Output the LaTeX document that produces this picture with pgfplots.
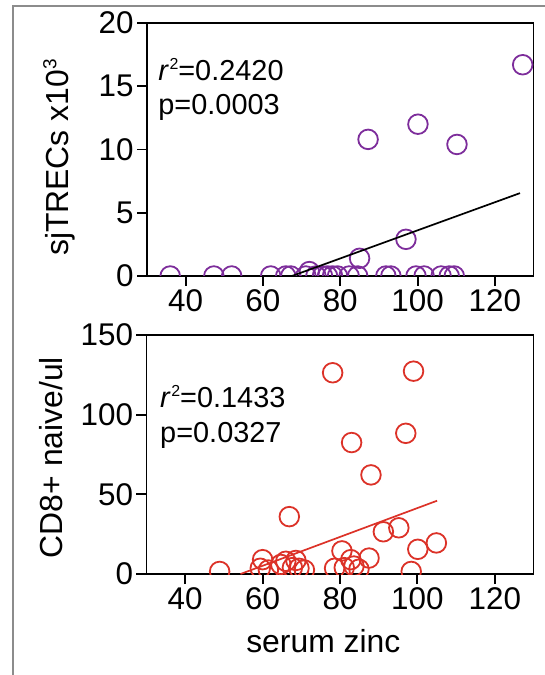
\documentclass[border=0pt]{standalone}
\usepackage{pgfplots}
\pgfplotsset{compat=1.18}
\usepackage{fontspec}
\setmainfont{Liberation Sans}
\definecolor{mypurple}{RGB}{125,45,155}
\definecolor{myred}{RGB}{220,50,40}
\newcommand{\sq}{\textit{r}\kern0.5bp\raisebox{11bp}{\fontsize{16}{16}\selectfont 2}}
\begin{document}
\begin{tikzpicture}
\useasboundingbox (0bp,0bp) rectangle (545bp,675bp);
\draw[black!45, line width=2.2bp] (12.7bp,0bp) -- (12.7bp,669bp) -- (545bp,669bp);
\pgfplotsset{
 common/.style={
  scale only axis, xmin=30, xmax=130, xtick={40,60,80,100,120},
  axis line style={line width=1.9bp},
  tick style={line width=1.9bp, black},
  major tick length=10bp, tick align=outside, tick pos=left,
  ticklabel style={font=\fontsize{31.5}{31.5}\selectfont},
  label style={font=\fontsize{32}{32}\selectfont},
  /pgf/number format/assume math mode=true,
  clip marker paths=true,
 }}
\begin{axis}[common, at={(147bp,399bp)}, anchor=south west, width=386.5bp, height=253bp,
  ymin=0, ymax=20, ytick={0,5,10,15,20},
  ylabel={sjTRECs x10\raisebox{12bp}{\fontsize{19}{19}\selectfont 3}},
  ylabel style={at={(axis description cs:-0.186,0.468)}, anchor=south, inner sep=0pt}]
\addplot[only marks, mark=o, mark size=9.8bp, mypurple, line width=1.8bp] coordinates {
(36,0) (47.3,0) (51.9,0) (62,0) (65.9,0) (67.2,0) (71.1,0) (72,0.35) (73.7,0)
(75.4,0) (76.7,0) (78,0) (79.3,0) (82.3,0) (84.5,0) (85,1.4) (87.2,10.8)
(91.8,0) (93.1,0) (97,2.9) (99.6,0) (100.1,12) (101.7,0) (106.1,0) (108.2,0)
(109.5,0) (110.2,10.4) (127.2,16.7)};
\addplot[black, line width=1.7bp] coordinates {(67.5,0) (126.5,6.55)};
\node[anchor=base west, inner sep=0pt, font=\fontsize{29}{29}\selectfont] at (axis cs:32.9,15.42) {\sq=0.2420};
\node[anchor=base west, inner sep=0pt, font=\fontsize{29}{29}\selectfont] at (axis cs:32.9,12.73) {p=0.0003};
\end{axis}
\begin{axis}[common, at={(146.5bp,101bp)}, anchor=south west, width=387bp, height=239bp,
  ymin=0, ymax=150, ytick={0,50,100,150},
  ylabel={CD8+ naive/ul},
  ylabel style={at={(axis description cs:-0.217,0.487)}, anchor=south, inner sep=0pt},
  xlabel={serum zinc},
  xlabel style={at={(axis description cs:0.457,-0.3305)}, anchor=base, inner sep=0pt}]
\addplot[only marks, mark=o, mark size=9.8bp, myred, line width=1.8bp] coordinates {
(48.9,1.6) (59.4,3.6) (60,9) (61.5,2.5) (64.7,6) (66,8) (66.9,36) (67.7,4)
(68.6,8.5) (69.4,3.6) (70.8,2.5) (78.1,126.3) (78.6,3.6) (80.5,14.5) (81.1,4)
(82.8,9) (83,82.5) (83.6,5) (84.9,3) (87.5,10) (88,62.2) (91.2,26.5) (95.2,29)
(97,88.3) (98.4,1.6) (99,127.3) (100.1,15.5) (104.9,19.5)};
\addplot[myred, line width=1.7bp] coordinates {(54.3,0) (105.1,46)};
\node[anchor=base west, inner sep=0pt, font=\fontsize{29}{29}\selectfont] at (axis cs:33.5,104.8) {\sq=0.1433};
\node[anchor=base west, inner sep=0pt, font=\fontsize{29}{29}\selectfont] at (axis cs:33.5,82.8) {p=0.0327};
\end{axis}
\end{tikzpicture}
\end{document}
